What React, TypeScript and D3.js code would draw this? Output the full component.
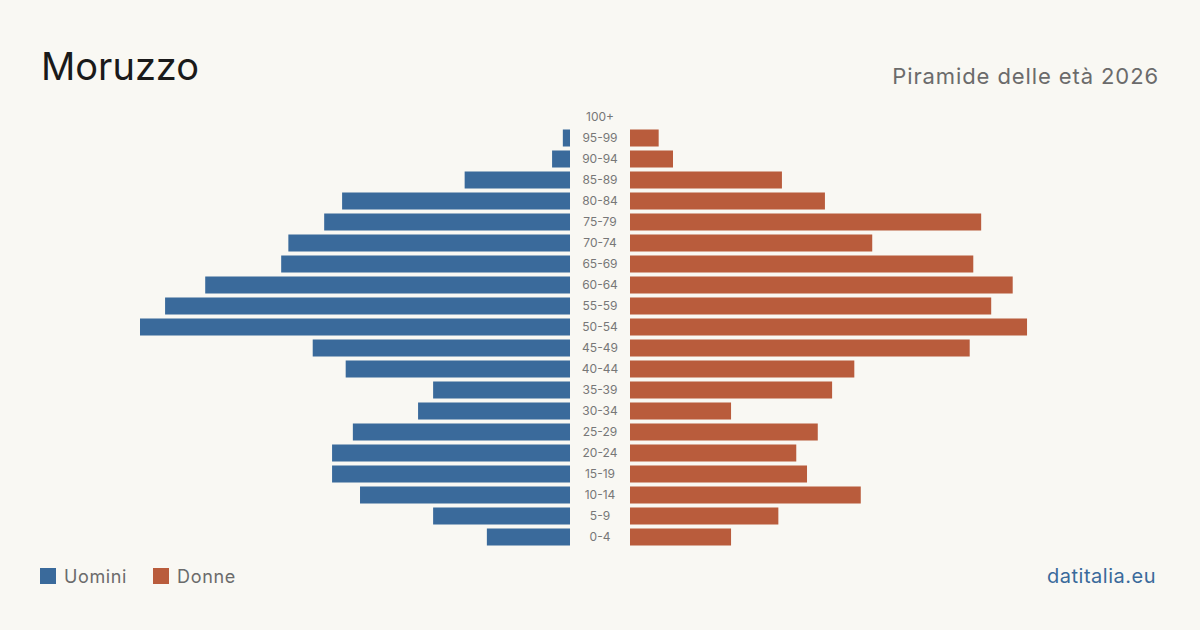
import React from "react";
import * as d3 from "d3";

const ageGroups = ["100+","95-99","90-94","85-89","80-84","75-79","70-74","65-69","60-64","55-59","50-54","45-49","40-44","35-39","30-34","25-29","20-24","15-19","10-14","5-9","0-4"];
const men = [0,1.0,2.5,14.7,31.8,34.3,39.3,40.3,50.9,56.5,60,35.9,31.3,19.1,21.2,30.3,33.2,33.2,29.3,19.1,11.6];
const women = [0,4.0,6.0,21.2,27.2,49.0,33.8,47.9,53.4,50.4,55.4,47.4,31.3,28.2,14.1,26.2,23.2,24.7,32.2,20.7,14.1];
const legendLabels = ["Uomini","Donne"];
const title = "Moruzzo";
const subtitle = "Piramide delle età 2026";
const source = "datitalia.eu";

const W = 1200, H = 630;
const BLUE = "#3a6a9b";
const ORANGE = "#b95c3c";
const FONT = "Inter, 'Noto Sans', sans-serif";

export default function App() {
  const y = d3.scaleBand<string>().domain(ageGroups).range([106.5, 547.5]).paddingInner(0.19).paddingOuter(0.095);
  const xMax = 60;
  const lenL = d3.scaleLinear().domain([0, xMax]).range([0, 430]);
  const xLeft = d3.scaleLinear().domain([0, xMax]).range([570, 140]);
  const xRight = d3.scaleLinear().domain([0, xMax]).range([630, 1060]);
  const bh = y.bandwidth();
  return (
    <svg width={W} height={H} style={{ display: "block", position: "absolute", left: 0, top: 0 }}>
      <rect width={W} height={H} fill="#f9f8f3" />
      <text x={41} y={80} fontFamily={FONT} fontSize={38} fill="#1a1a1a">{title}</text>
      <text x={1159} y={84} textAnchor="end" fontFamily={FONT} fontSize={22} letterSpacing={0.9} fill="#6b6b6b">{subtitle}</text>
      {ageGroups.map((g, i) => (
        <g key={g}>
          {men[i] > 0 && (
            <rect x={xLeft(men[i])} y={y(g)} width={lenL(men[i])} height={bh} fill={BLUE} />
          )}
          {women[i] > 0 && (
            <rect x={xRight(0)} y={y(g)} width={xRight(women[i]) - xRight(0)} height={bh} fill={ORANGE} />
          )}
          <text x={600} y={(y(g) as number) + bh / 2} dy="0.35em" textAnchor="middle" fontFamily={FONT} fontSize={12} fill="#777">{g}</text>
        </g>
      ))}
      <rect x={40} y={568} width={16} height={16} fill={BLUE} />
      <text x={64} y={583} fontFamily={FONT} fontSize={18} letterSpacing={0.6} fill="#6b6b6b">{legendLabels[0]}</text>
      <rect x={153} y={568} width={16} height={16} fill={ORANGE} />
      <text x={177} y={583} fontFamily={FONT} fontSize={18} letterSpacing={0.7} fill="#6b6b6b">{legendLabels[1]}</text>
      <text x={1156} y={583} textAnchor="end" fontFamily={FONT} fontSize={20} letterSpacing={0.5} fill={BLUE}>{source}</text>
    </svg>
  );
}
